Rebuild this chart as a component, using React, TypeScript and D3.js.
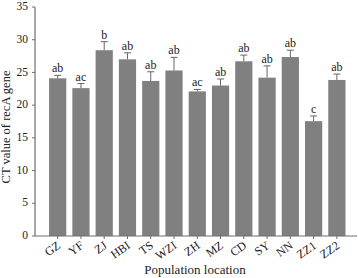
import React from "react";
import * as d3 from "d3";

const categories = ["GZ", "YF", "ZJ", "HBI", "TS", "WZI", "ZH", "MZ", "CD", "SY", "NN", "ZZ1", "ZZ2"];
const values = [24.1, 22.6, 28.4, 27.0, 23.7, 25.3, 22.1, 23.0, 26.7, 24.2, 27.35, 17.55, 23.85];
const errors = [0.45, 0.7, 1.3, 1.0, 1.4, 2.0, 0.3, 1.0, 0.95, 1.8, 1.05, 0.8, 0.9];
const letters = ["ab", "ac", "b", "ab", "ab", "ab", "ac", "ab", "ab", "ab", "ab", "c", "ab"];
const yTicks = [0, 5, 10, 15, 20, 25, 30, 35];

const W = 358, H = 278;
const left = 35, right = 357, top = 7, bottom = 236;
const font = "'Liberation Serif', 'Times New Roman', serif";
const axisColor = "#6e6e6e";
const barColor = "#808080";

export default function App() {
  const x = d3.scaleBand<string>().domain(categories).range([left, right]).paddingInner(0.26).paddingOuter(0.55).align(0.55);
  const y = d3.scaleLinear().domain([0, 35]).range([bottom, top]);
  const bw = x.bandwidth();
  return (
    <svg width={W} height={H} style={{ position: "absolute", left: 0, top: 0 }} fontFamily={font}>
      <rect width={W} height={H} fill="#fff" />
      {categories.map((c, i) => {
        const x0 = x(c)!;
        const cx = x0 + bw / 2;
        const v = values[i], e = errors[i];
        return (
          <g key={c}>
            <rect x={x0} y={y(v)} width={bw} height={bottom - y(v)} fill={barColor} />
            <line x1={cx} x2={cx} y1={y(v)} y2={y(v + e)} stroke="#666" strokeWidth={1} />
            <line x1={cx - 3.5} x2={cx + 3.5} y1={y(v + e)} y2={y(v + e)} stroke="#666" strokeWidth={1} />
            <text x={cx} y={y(v + e) - 3} textAnchor="middle" fontSize={12} fill="#222">{letters[i]}</text>
            <line x1={cx} x2={cx} y1={bottom} y2={bottom + 3} stroke={axisColor} />
            <text transform={`translate(${cx + 2},${bottom + 9}) rotate(-35)`} textAnchor="end" dominantBaseline="middle" fontSize={12} fill="#222">{c}</text>
          </g>
        );
      })}
      <line x1={left} x2={left} y1={top} y2={bottom} stroke={axisColor} strokeWidth={1.2} />
      <line x1={left} x2={right} y1={bottom} y2={bottom} stroke={axisColor} strokeWidth={1.2} />
      {yTicks.map((t) => (
        <g key={t}>
          <line x1={left - 3} x2={left} y1={y(t)} y2={y(t)} stroke={axisColor} />
          <text x={left - 7} y={y(t) + 0.5} textAnchor="end" dominantBaseline="middle" fontSize={11.5} fill="#222">{t}</text>
        </g>
      ))}
      <text transform={`translate(10,127) rotate(-90)`} textAnchor="middle" fontSize={12.5} fill="#222">CT value of recA gene</text>
      <text x={195} y={274} textAnchor="middle" fontSize={13} fill="#222">Population location</text>
    </svg>
  );
}
